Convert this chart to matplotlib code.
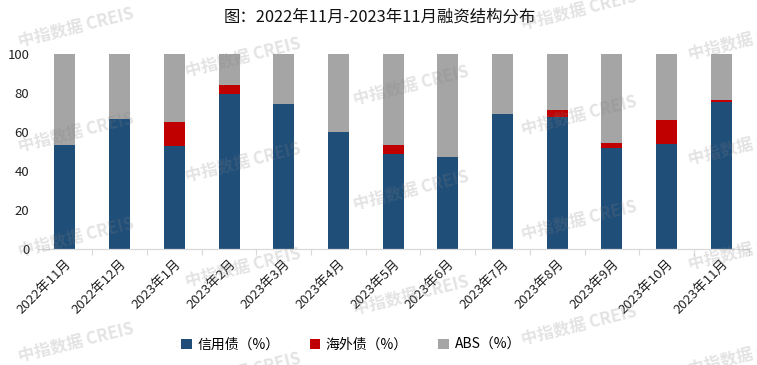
import numpy as np
import matplotlib
matplotlib.use("Agg")
import matplotlib.pyplot as plt
from matplotlib.patches import Patch

plt.rcParams["font.family"] = ["Noto Sans CJK SC", "DejaVu Sans"]

# ---- data (percent of total financing) ----
months = ["2022年11月", "2022年12月", "2023年1月", "2023年2月", "2023年3月",
          "2023年4月", "2023年5月", "2023年6月", "2023年7月", "2023年8月",
          "2023年9月", "2023年10月", "2023年11月"]
credit_bond = [53.3, 66.7, 52.8, 79.6, 74.5, 60.0, 48.7, 47.2, 69.2, 67.7, 51.8, 53.8, 75.4]
overseas_bond = [0.0, 0.0, 12.5, 4.7, 0.0, 0.0, 4.6, 0.0, 0.0, 3.6, 2.6, 12.4, 1.0]
abs_share = [100 - c - o for c, o in zip(credit_bond, overseas_bond)]

series_names = ["信用债（%）", "海外债（%）", "ABS（%）"]
colors = ["#1F4E79", "#C00000", "#A5A5A5"]

fig = plt.figure(figsize=(7.57, 3.65), dpi=100)
ax = fig.add_axes([0.0497, 0.3178, 0.9393, 0.5342])

x = np.arange(len(months))
w = 0.385
ax.bar(x, credit_bond, w, color=colors[0], zorder=2)
ax.bar(x, overseas_bond, w, bottom=credit_bond, color=colors[1], zorder=2)
ax.bar(x, abs_share, w, bottom=np.add(credit_bond, overseas_bond), color=colors[2], zorder=2)

ax.set_xlim(-0.5, len(months) - 0.5)
ax.set_ylim(0, 100)
ax.set_yticks(range(0, 101, 20))
ax.tick_params(axis="y", length=0, labelsize=9.5, labelcolor="#222222", pad=6)

ax.set_xticks(x)
ax.set_xticklabels(months, rotation=45, ha="right", rotation_mode="anchor",
                   fontsize=9.5, color="#222222")
ax.tick_params(axis="x", which="major", length=0, pad=6)
ax.set_xticks(np.arange(0.5, len(months), 1.0), minor=True)
ax.tick_params(axis="x", which="minor", length=4, color="#D9D9D9", width=0.8)

for side in ["left", "top", "right"]:
    ax.spines[side].set_visible(False)
ax.spines["bottom"].set_color("#D9D9D9")
ax.spines["bottom"].set_linewidth(0.9)

fig.text(380 / 757, 1 - 17 / 365, "图：2022年11月-2023年11月融资结构分布",
         ha="center", va="center", fontsize=11.8, color="#111111")

handles = [Patch(facecolor=c, edgecolor="none") for c in colors]
fig.legend(handles, series_names, loc="center", ncol=3,
           bbox_to_anchor=(351 / 757, 1 - 345 / 365), frameon=False,
           fontsize=10, handlelength=0.75, handleheight=0.75,
           handletextpad=0.4, columnspacing=2.2)

# ---- watermark ----
wm_cols = [76, 243, 411, 579, 746]
wm_offsets = [27, 57, 85, 10, 40]
for cx, off in zip(wm_cols, wm_offsets):
    cy = off
    while cy < 390:
        fig.text(cx / 757, 1 - cy / 365, "中指数据 CREIS", ha="center", va="center",
                 rotation=14, fontsize=12, fontweight="bold", color="#808080",
                 alpha=0.22)
        cy += 105

fig.savefig("out.png", dpi=100)
